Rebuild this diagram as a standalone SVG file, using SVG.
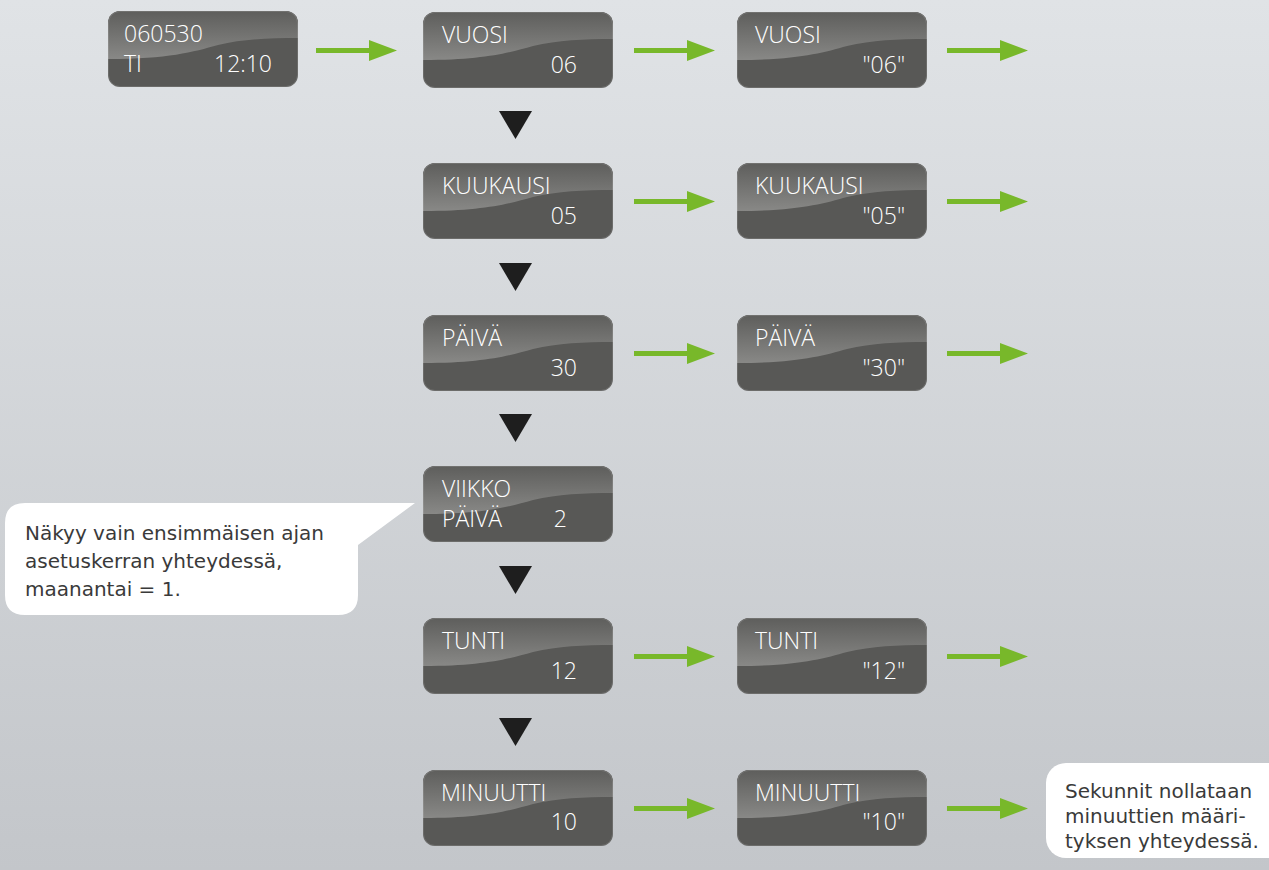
<svg xmlns="http://www.w3.org/2000/svg" xmlns:xlink="http://www.w3.org/1999/xlink" width="1269" height="870" viewBox="0 0 1269 870">
  <defs>
    <linearGradient id="bg" x1="0" y1="0" x2="0" y2="1">
      <stop offset="0" stop-color="#e0e3e6"/>
      <stop offset="1" stop-color="#c3c6ca"/>
    </linearGradient>
    <linearGradient id="hl" gradientUnits="userSpaceOnUse" x1="0" y1="0" x2="0" y2="50">
      <stop offset="0" stop-color="#5e5e5c"/>
      <stop offset="1" stop-color="#8a8a88"/>
    </linearGradient>
    <clipPath id="nclip"><rect x="0" y="0" width="190" height="76" rx="12"/></clipPath>
    <g id="nodebg">
      <rect x="0" y="0" width="190" height="76" rx="12" fill="#585856"/>
      <path d="M0,0 H190 V27 C160,27 135,28 110,34 C85,41 60,48 0,48 Z" fill="url(#hl)" clip-path="url(#nclip)"/>
      <rect x="0.5" y="0.5" width="189" height="75" rx="11.5" fill="none" stroke="#ffffff" stroke-opacity="0.12"/>
    </g>
    <path id="garrow" d="M0,-2.5 H53 V-10.5 L81,0 L53,10.5 V2.5 H0 Z"/>
    <path id="tri" d="M0,0 H33 L16.5,28 Z"/>
  </defs>
  <style>
    .t { font-family: "Open Sans", "Liberation Sans", sans-serif; font-weight: 300; font-size: 23px; fill: #ffffff; }
    .r { text-anchor: end; }
    .c { font-family: "DejaVu Sans", "Liberation Sans", sans-serif; font-weight: 400; font-size: 20px; fill: #3a3a3a; }
    .ga { fill: #78b82a; }
    .tr { fill: #1e1e1e; }
    .bubble { fill: #ffffff; }
  </style>

  <rect x="0" y="0" width="1269" height="870" fill="url(#bg)"/>

  <g id="connectors">
    <use href="#garrow" class="ga" transform="translate(316,50.5)"/>
    <use href="#garrow" class="ga" transform="translate(634,50.5)"/>
    <use href="#garrow" class="ga" transform="translate(947,50.5)"/>
    <use href="#garrow" class="ga" transform="translate(634,201.5)"/>
    <use href="#garrow" class="ga" transform="translate(947,201.5)"/>
    <use href="#garrow" class="ga" transform="translate(634,353.5)"/>
    <use href="#garrow" class="ga" transform="translate(947,353.5)"/>
    <use href="#garrow" class="ga" transform="translate(634,656.5)"/>
    <use href="#garrow" class="ga" transform="translate(947,656.5)"/>
    <use href="#garrow" class="ga" transform="translate(634,808.5)"/>
    <use href="#garrow" class="ga" transform="translate(947,808.5)"/>
    <use href="#tri" class="tr" transform="translate(499,111)"/>
    <use href="#tri" class="tr" transform="translate(499,263)"/>
    <use href="#tri" class="tr" transform="translate(499,414)"/>
    <use href="#tri" class="tr" transform="translate(499,566)"/>
    <use href="#tri" class="tr" transform="translate(499,718)"/>
  </g>

  <g id="n-start" transform="translate(108,11)">
    <use href="#nodebg"/>
    <text class="t" x="16" y="31">060530</text>
    <text class="t" x="16" y="61">TI</text>
    <text class="t r" x="164" y="61">12:10</text>
  </g>

  <g id="n-vuosi" transform="translate(423,12)">
    <use href="#nodebg"/>
    <text class="t" x="19" y="31">VUOSI</text>
    <text class="t r" x="154" y="61">06</text>
  </g>
  <g id="n-vuosi-set" transform="translate(737,12)">
    <use href="#nodebg"/>
    <text class="t" x="18" y="31">VUOSI</text>
    <text class="t r" x="168" y="61">"06"</text>
  </g>

  <g id="n-kuukausi" transform="translate(423,163)">
    <use href="#nodebg"/>
    <text class="t" x="19" y="31">KUUKAUSI</text>
    <text class="t r" x="154" y="61">05</text>
  </g>
  <g id="n-kuukausi-set" transform="translate(737,163)">
    <use href="#nodebg"/>
    <text class="t" x="18" y="31">KUUKAUSI</text>
    <text class="t r" x="168" y="61">"05"</text>
  </g>

  <g id="n-paiva" transform="translate(423,315)">
    <use href="#nodebg"/>
    <text class="t" x="19" y="31">PÄIVÄ</text>
    <text class="t r" x="154" y="61">30</text>
  </g>
  <g id="n-paiva-set" transform="translate(737,315)">
    <use href="#nodebg"/>
    <text class="t" x="18" y="31">PÄIVÄ</text>
    <text class="t r" x="168" y="61">"30"</text>
  </g>

  <g id="n-viikkopaiva" transform="translate(423,466)">
    <use href="#nodebg"/>
    <text class="t" x="19" y="31">VIIKKO</text>
    <text class="t" x="19" y="61">PÄIVÄ</text>
    <text class="t r" x="144" y="61">2</text>
  </g>

  <g id="n-tunti" transform="translate(423,618)">
    <use href="#nodebg"/>
    <text class="t" x="19" y="31">TUNTI</text>
    <text class="t r" x="154" y="61">12</text>
  </g>
  <g id="n-tunti-set" transform="translate(737,618)">
    <use href="#nodebg"/>
    <text class="t" x="18" y="31">TUNTI</text>
    <text class="t r" x="168" y="61">"12"</text>
  </g>

  <g id="n-minuutti" transform="translate(423,770)">
    <use href="#nodebg"/>
    <text class="t" x="18" y="31">MINUUTTI</text>
    <text class="t r" x="154" y="60">10</text>
  </g>
  <g id="n-minuutti-set" transform="translate(737,770)">
    <use href="#nodebg"/>
    <text class="t" x="18" y="31">MINUUTTI</text>
    <text class="t r" x="168" y="60">"10"</text>
  </g>

  <g id="note-viikkopaiva">
    <path class="bubble" d="M25,503 H415 L358,545 V595 Q358,615 338,615 H25 Q5,615 5,595 V523 Q5,503 25,503 Z"/>
    <text class="c" x="25" y="540">Näkyy vain ensimmäisen ajan</text>
    <text class="c" x="25" y="568">asetuskerran yhteydessä,</text>
    <text class="c" x="25" y="596">maanantai = 1.</text>
  </g>

  <g id="note-sekunnit">
    <rect class="bubble" x="1046" y="763" width="250" height="95" rx="20"/>
    <text class="c" x="1065" y="798">Sekunnit nollataan</text>
    <text class="c" x="1065" y="823">minuuttien määri-</text>
    <text class="c" x="1065" y="848">tyksen yhteydessä.</text>
  </g>
</svg>
